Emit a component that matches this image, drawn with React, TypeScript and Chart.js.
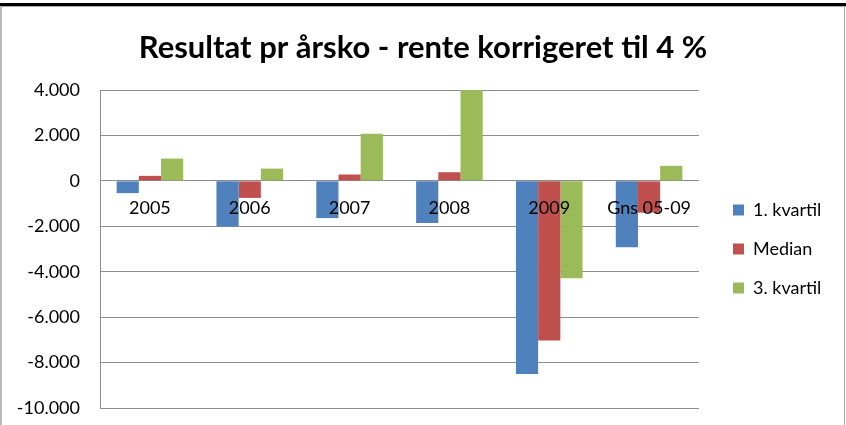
import React, { useEffect, useRef } from "react";
import { Chart, registerables } from "chart.js";

Chart.register(...registerables);

const categories = ["2005", "2006", "2007", "2008", "2009", "Gns 05-09"];
const seriesNames = ["1. kvartil", "Median", "3. kvartil"];
const kvartil1 = [-540, -2010, -1640, -1860, -8500, -2920];
const median = [220, -750, 280, 380, -7030, -1400];
const kvartil3 = [980, 540, 2070, 4000, -4290, 660];
const colors = ["#4F81BD", "#C0504D", "#9BBB59"];
const yMin = -10000;
const yMax = 4000;
const yStep = 2000;
const title = "Resultat pr årsko - rente korrigeret til 4 %";

const FONT = "Lato, 'Noto Sans', sans-serif";

function fmt(v: number): string {
  const neg = v < 0;
  const s = Math.abs(Math.round(v)).toString().replace(/\B(?=(\d{3})+(?!\d))/g, ".");
  return (neg ? "-" : "") + s;
}

const legendFix = {
  id: "legendFix",
  beforeLayout(chart: any) {
    const lg = chart.legend;
    if (lg && !lg._patched) {
      const orig = lg.fit.bind(lg);
      lg.fit = function () {
        orig();
        this.width = 147;
      };
      lg._patched = true;
    }
  },
  afterLayout(chart: any) {
    const lg = chart.legend;
    if (lg) {
      lg.left = 712;
      lg.right = 846;
    }
  },
};

export default function App() {
  const ref = useRef<HTMLCanvasElement | null>(null);
  useEffect(() => {
    if (!ref.current) return;
    const data = [kvartil1, median, kvartil3];
    const chart = new Chart(ref.current, {
      type: "bar",
      data: {
        labels: categories,
        datasets: seriesNames.map((n, i) => ({
          label: n,
          data: data[i],
          backgroundColor: colors[i],
          borderWidth: 0,
          categoryPercentage: 0.667,
          barPercentage: 1,
        })),
      },
      options: {
        responsive: false,
        animation: false,
        layout: { padding: { left: 0, right: 0, top: 0, bottom: 17 } },
        plugins: {
          title: {
            display: true,
            text: title,
            color: "#000",
            font: { family: FONT, size: 31, weight: "bold" },
            padding: { top: 29.4, bottom: 23.4 },
          },
          legend: {
            position: "right",
            fullSize: false,
            labels: {
              color: "#000",
              font: { family: FONT, size: 18 },
              boxWidth: 11,
              boxHeight: 11,
              padding: 21,
            },
          },
          tooltip: { enabled: false },
        },
        scales: {
          x: {
            position: { y: 0 } as any,
            grid: { display: false, drawTicks: false },
            border: { display: false },
            ticks: {
              z: 1,
              color: "#000",
              font: { family: FONT, size: 18 },
              padding: 17,
              maxRotation: 0,
              autoSkip: false,
            },
            afterFit: (s: any) => {
              s.height = 0;
            },
          },
          y: {
            min: yMin,
            max: yMax,
            grid: { color: "#8c8c8c", drawTicks: false },
            border: { color: "#8c8c8c" },
            ticks: {
              stepSize: yStep,
              color: "#000",
              font: { family: FONT, size: 18 },
              padding: 20,
              callback: (v: any) => fmt(Number(v)),
            },
            afterFit: (s: any) => {
              s.width = 100;
              s.paddingBottom = 0;
              s.paddingTop = 0;
            },
          },
        },
      },
      plugins: [legendFix],
    });
    return () => chart.destroy();
  }, []);
  return (
    <div style={{ position: "absolute", left: 0, top: 0, width: 846, height: 425, background: "#fff" }}>
      <canvas ref={ref} width={846} height={425} style={{ position: "absolute", left: 0, top: 0 }} />
      <div style={{ position: "absolute", left: 0, top: 3, width: 846, height: 3, background: "#000" }} />
      <div style={{ position: "absolute", left: 0, top: 6, width: 846, height: 1, background: "#aaa" }} />
      <div style={{ position: "absolute", left: 0, top: 6, width: 2, height: 419, background: "#bbb" }} />
      <div style={{ position: "absolute", left: 844, top: 6, width: 1, height: 419, background: "#aaa" }} />
    </div>
  );
}
